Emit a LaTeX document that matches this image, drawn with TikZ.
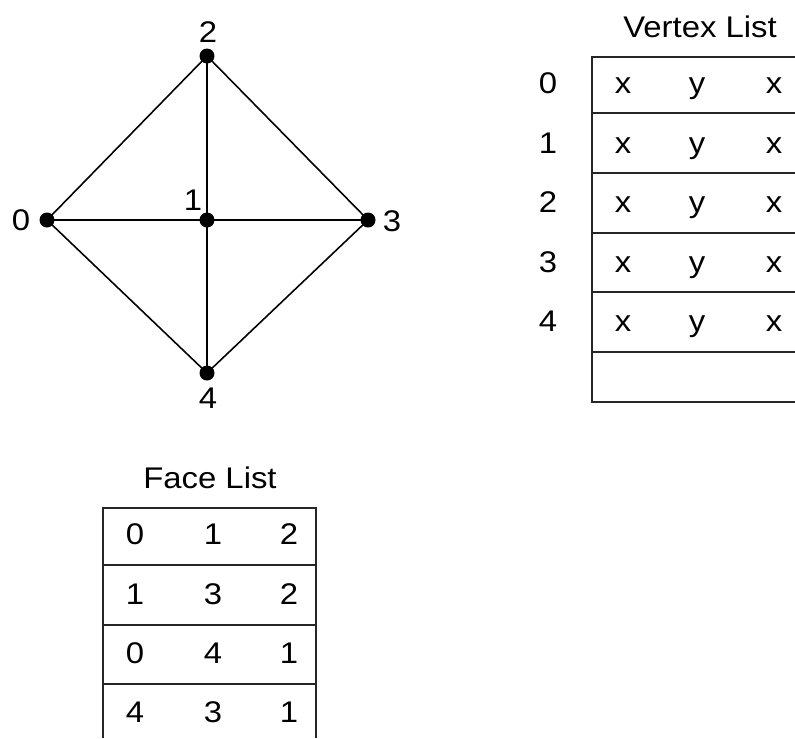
\documentclass[tikz,border=0pt]{standalone}
\usepackage{fontspec}
\setmainfont[FakeStretch=1.1]{Liberation Sans}
\usetikzlibrary{positioning}

\begin{document}
\begin{tikzpicture}[x=0.02cm,y=-0.02cm,font=\fontsize{17}{20}\selectfont,
  vx/.style={circle,fill=black,minimum size=0.3cm,inner sep=0pt},
  cell/.style={inner sep=0pt,anchor=center,text height=12.2pt,text depth=0pt},
  edge/.style={draw=black,line width=0.9pt},
  tab/.style={draw=black!85,line width=0.9pt}]
  \useasboundingbox (0,0) rectangle (795,738);
  % mesh
  \node[vx] (v0) at (47,220) {};
  \node[vx] (v1) at (207,220) {};
  \node[vx] (v2) at (207,56) {};
  \node[vx] (v3) at (368,220) {};
  \node[vx] (v4) at (207,373) {};
  \draw[edge] (v0.center) -- (v2.center) -- (v3.center) -- (v4.center) -- (v0.center);
  \draw[edge] (v0.center) -- (v3.center);
  \draw[edge] (v2.center) -- (v4.center);
  \node[cell] (l0) at (21,220) {0};
  \node[cell] (l1) at (193,200) {1};
  \node[cell] (l2) at (208,32) {2};
  \node[cell] (l3) at (392,221) {3};
  \node[cell] (l4) at (208,398) {4};
  % vertex list
  \node[cell] (vtitle) at (700,27) {Vertex List};
  \draw[tab] (795,57) -- (592,57) -- (592,402) -- (795,402);
  \foreach \y in {113,173,233,292,352}
    \draw[tab] (592,\y) -- (795,\y);
  \foreach \i/\y in {0/83,1/143,2/202,3/262,4/321} {
    \node[cell] (vn\i) at (548,\y) {\i};
    \node[cell] (vx\i) at (623,\y) {x};
    \node[cell] (vy\i) at (697,\y) {y};
    \node[cell] (vz\i) at (774,\y) {x};
  }
  % face list
  \node[cell] (ftitle) at (210,478) {Face List};
  \draw[tab] (103,738) -- (103,508) -- (316,508) -- (316,738);
  \foreach \y in {565,625,684}
    \draw[tab] (103,\y) -- (316,\y);
  \foreach \a/\b/\c/\y [count=\r] in {0/1/2/534,1/3/2/594,0/4/1/653,4/3/1/712} {
    \node[cell] (fa\r) at (135,\y) {\a};
    \node[cell] (fb\r) at (213,\y) {\b};
    \node[cell] (fc\r) at (289,\y) {\c};
  }
\end{tikzpicture}
\end{document}
